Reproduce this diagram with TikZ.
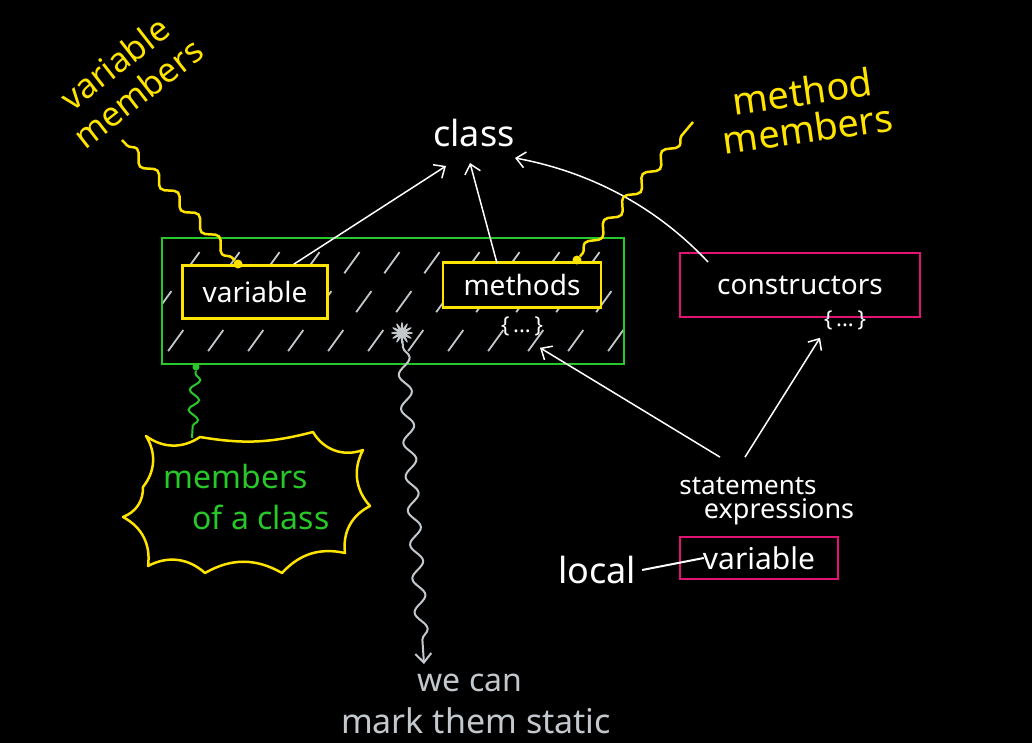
\documentclass[tikz,border=0pt]{standalone}
\usepackage{fontspec}
\setmainfont{Noto Sans}
\usetikzlibrary{arrows.meta,decorations.pathmorphing}
\definecolor{hy}{RGB}{255,228,0}
\definecolor{hg}{RGB}{40,200,40}
\definecolor{hm}{RGB}{225,20,115}
\definecolor{hgr}{RGB}{195,200,205}
\newcommand{\fs}[1]{\fontsize{#1}{#1}\selectfont}
\begin{document}
\begin{tikzpicture}[x=1pt,y=-1pt,
  txt/.style={text=white,inner sep=0pt,font=\fs{28}},
  ybox/.style={draw=hy,line width=2.5pt,fill=black,text=white,font=\fs{28}},
  mbox/.style={draw=hm,line width=2.5pt,text=white,font=\fs{28}},
  arr/.style={white,line width=1.5pt,-{Straight Barb[length=9pt,width=16pt]}},
  wavy/.style={decorate,decoration={snake,amplitude=5pt,segment length=30pt,pre length=4pt,post length=4pt},line width=2.5pt},
  dot/.style={circle,inner sep=0pt,minimum size=9pt,fill=#1}]
\fill[black] (0,0) rectangle (1032,743);
% green member box with hatching
\node[minimum width=462pt,minimum height=126pt,inner sep=0pt] (gbox) at (393,301) {};
\begin{scope}
\clip (gbox.south west) rectangle (gbox.north east);
\foreach \x in {0,40,...,720}
  \draw[hgr,line width=1.8pt,dash pattern=on 26pt off 22pt] (\x+20,390) -- (\x+150,210);
\end{scope}
\draw[hg,line width=2pt] (gbox.south west) rectangle (gbox.north east);
% class
\node[txt,font=\fs{36}] (class) at (474,133) {class};
% boxes
\node[ybox,minimum width=145pt,minimum height=53pt,inner sep=0pt] (vbox) at (255,292) {variable};
\node[ybox,minimum width=158pt,minimum height=45pt,inner sep=0pt] (mbox) at (522,285) {methods};
\node[txt,font=\fs{22}] (br1) at (522,326) {\{\,...\,\}};
\node[mbox,minimum width=240pt,minimum height=64pt,inner sep=0pt] (cbox) at (800,285) {constructors};
\node[txt,font=\fs{22}] (br2) at (845,320) {\{\,...\,\}};
% arrows to class
\coordinate (c1) at (446,166);
\coordinate (c2) at (470,163);
\coordinate (c3) at (515,158);
\draw[arr] ([xshift=-35pt]vbox.north east) -- (c1);
\draw[arr] ([xshift=-25pt,yshift=-2pt]mbox.north) -- (c2);
\coordinate (cs) at (708,262);
\draw[arr] (cs) .. controls (650,200) and (580,170) .. (c3);
% variable members
\node[dot=hy] (vdot) at (238,264) {};
\coordinate (vmend) at (122,140);
\draw[wavy,hy] (vdot) -- (vmend);
\node[text=hy,font=\fs{34},rotate=38,align=center,inner sep=0pt] (vmem) at (126,78) {variable\\[4pt]members};
% method members
\node[dot=hy] (mdot) at (577,260) {};
\coordinate (mmend) at (693,122);
\draw[wavy,hy] (mdot) -- (mmend);
\node[text=hy,font=\fs{38},rotate=8,align=center,inner sep=0pt] (mmem) at (805,110) {method\\[0pt]members};
% star and static note
\fill[hgr] plot[samples=97,domain=0:360,variable=\t] ({402+(8+3*cos(12*\t))*cos(\t)},{333+(8+3*cos(12*\t))*sin(\t)}) -- cycle;
\node[circle,minimum size=16pt,inner sep=0pt] (star) at (402,333) {};
\coordinate (wend) at (424,664);
\draw[wavy,hgr,line width=2pt,decoration={snake,amplitude=6pt,segment length=34pt,pre length=6pt,post length=14pt},-{Straight Barb[length=9pt,width=16pt]}] (star) -- (wend);
\node[text=hgr,font=\fs{32},inner sep=0pt] (wecan) at (470,683) {we can};
\node[text=hgr,font=\fs{34},inner sep=0pt] (mark) at (476,721) {mark them static};
% members of a class bubble
\node[dot=hg,minimum size=7pt] (gdot) at (196,367) {};
\coordinate (btop) at (192,438);
\draw[wavy,hg,line width=2pt,decoration={snake,amplitude=5pt,segment length=20pt,pre length=3pt,post length=3pt}] (gdot) -- (btop);
\draw[hy,line width=2.5pt,line join=round]
  (146,436) to[bend right=35] (200,437) to[bend right=12] (313,432)
  to[bend right=40] (363,450) to[bend right=35] (370,506)
  to[bend right=35] (345,553) to[bend right=30] (282,573)
  to[bend right=30] (205,573) to[bend right=35] (148,566)
  to[bend right=35] (123,517) to[bend right=35] (143,487)
  to[bend right=35] cycle;
\node[text=hg,font=\fs{32},inner sep=0pt] (mem1) at (236,476) {members};
\node[text=hg,font=\fs{32},inner sep=0pt] (mem2) at (261,517) {of a class};
% statements
\node[txt,font=\fs{26}] (stmt) at (748,486) {statements};
\node[txt,font=\fs{27}] (expr) at (779,512) {expressions};
\draw[arr] ([xshift=-28pt,yshift=20pt]stmt.north) -- ([xshift=18pt,yshift=-12pt]br1.south);
\draw[arr] ([xshift=-3pt,yshift=20pt]stmt.north) -- ([xshift=-25pt,yshift=-8pt]br2.south);
% local variable
\node[mbox,minimum width=158pt,minimum height=42pt,inner sep=0pt,font=\fs{30}] (lvbox) at (759,558) {variable};
\node[txt,font=\fs{36}] (local) at (597,570) {local};
\draw[white,line width=2pt] ([xshift=6pt]local.east) -- ([xshift=25pt]lvbox.west);
\end{tikzpicture}
\end{document}
